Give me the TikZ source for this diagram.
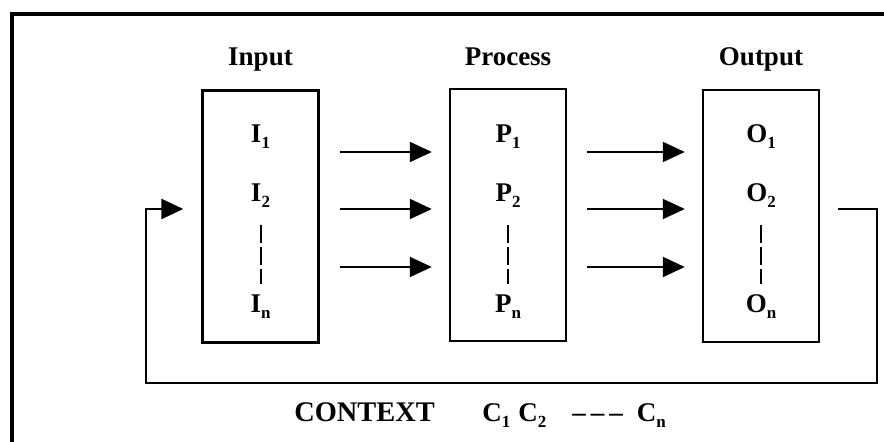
\documentclass[tikz,border=0pt]{standalone}
\usepackage{fontspec}
\setmainfont{Liberation Serif}
\usetikzlibrary{arrows.meta,positioning}
\newcommand\lowsub[1]{\raisebox{-3pt}{\fontsize{8.5pt}{9pt}\selectfont #1}}
\tikzset{
  box/.style={draw, line width=1.2pt, minimum width=58pt, minimum height=126pt, inner sep=0pt},
  head/.style={font=\fontsize{13.5pt}{16pt}\selectfont\bfseries, anchor=base},
  item/.style={font=\fontsize{13.5pt}{16pt}\selectfont\bfseries, anchor=base, inner sep=0pt},
  flow/.style={line width=1pt, -{Triangle[length=11pt,width=10pt]}, shorten <=10pt, shorten >=8.5pt},
  fback/.style={line width=1.3pt, -{Triangle[length=11pt,width=10pt]}, shorten <=9pt, shorten >=9pt},
  gap/.style={line width=1pt, dash pattern=on 9pt off 2pt},
  frame/.style={line width=1.7pt}
}

\begin{document}
\begin{tikzpicture}[x=0.5pt, y=-0.5pt]
    \useasboundingbox (0,0) rectangle (884,442);
    \draw[frame] (12,450) -- (12,14) -- (890,14);

    \node[box] (inbox) at (260.5,216.5) {};
    \node[box] (procbox) at (508,215) {};
    \node[box] (outbox) at (761,216) {};

    \coordinate (th) at (0,66);
    \foreach \b/\t in {inbox/Input, procbox/Process, outbox/Output} {
      \node[head] (\b-head) at (\b |- th) {\t};
    }

    \coordinate (t1) at (0,143);
    \coordinate (t2) at (0,202);
    \coordinate (tn) at (0,313);
    \coordinate (d1) at (0,225);
    \coordinate (d2) at (0,284);
    \foreach \b/\l in {inbox/I, procbox/P, outbox/O} {
      \node[item] (\b-1) at (\b |- t1) {\l\lowsub{1}};
      \node[item] (\b-2) at (\b |- t2) {\l\lowsub{2}};
      \node[item] (\b-n) at (\b |- tn) {\l\lowsub{n}};
      \draw[gap] (\b |- d1) -- (\b |- d2);
    }

    \coordinate (r1) at (0,152);
    \coordinate (r2) at (0,209);
    \coordinate (r3) at (0,267);
    \foreach \r in {r1,r2,r3} {
      \draw[flow] (inbox.east |- \r) -- (procbox.west |- \r);
      \draw[flow] (procbox.east |- \r) -- (outbox.west |- \r);
    }

    \coordinate (fb-r) at (877,383);
    \coordinate (fb-l) at (146,383);
    \draw[fback] (outbox.east |- r2) -- (fb-r |- r2) -- (fb-r) -- (fb-l) -- (fb-l |- r2) -- (inbox.west |- r2);

    \node[item, font=\fontsize{14.2pt}{17pt}\selectfont\bfseries] (ctx) at (364.5,422) {CONTEXT};
    \node[item, anchor=base west] (cseq) at (482,422) {C\lowsub{1}\hspace{4pt}C\lowsub{2}\hspace{13pt}\textendash\kern2.5pt\textendash\kern2.5pt\textendash\hspace{7pt}C\lowsub{n}};

  \end{tikzpicture}
\end{document}
